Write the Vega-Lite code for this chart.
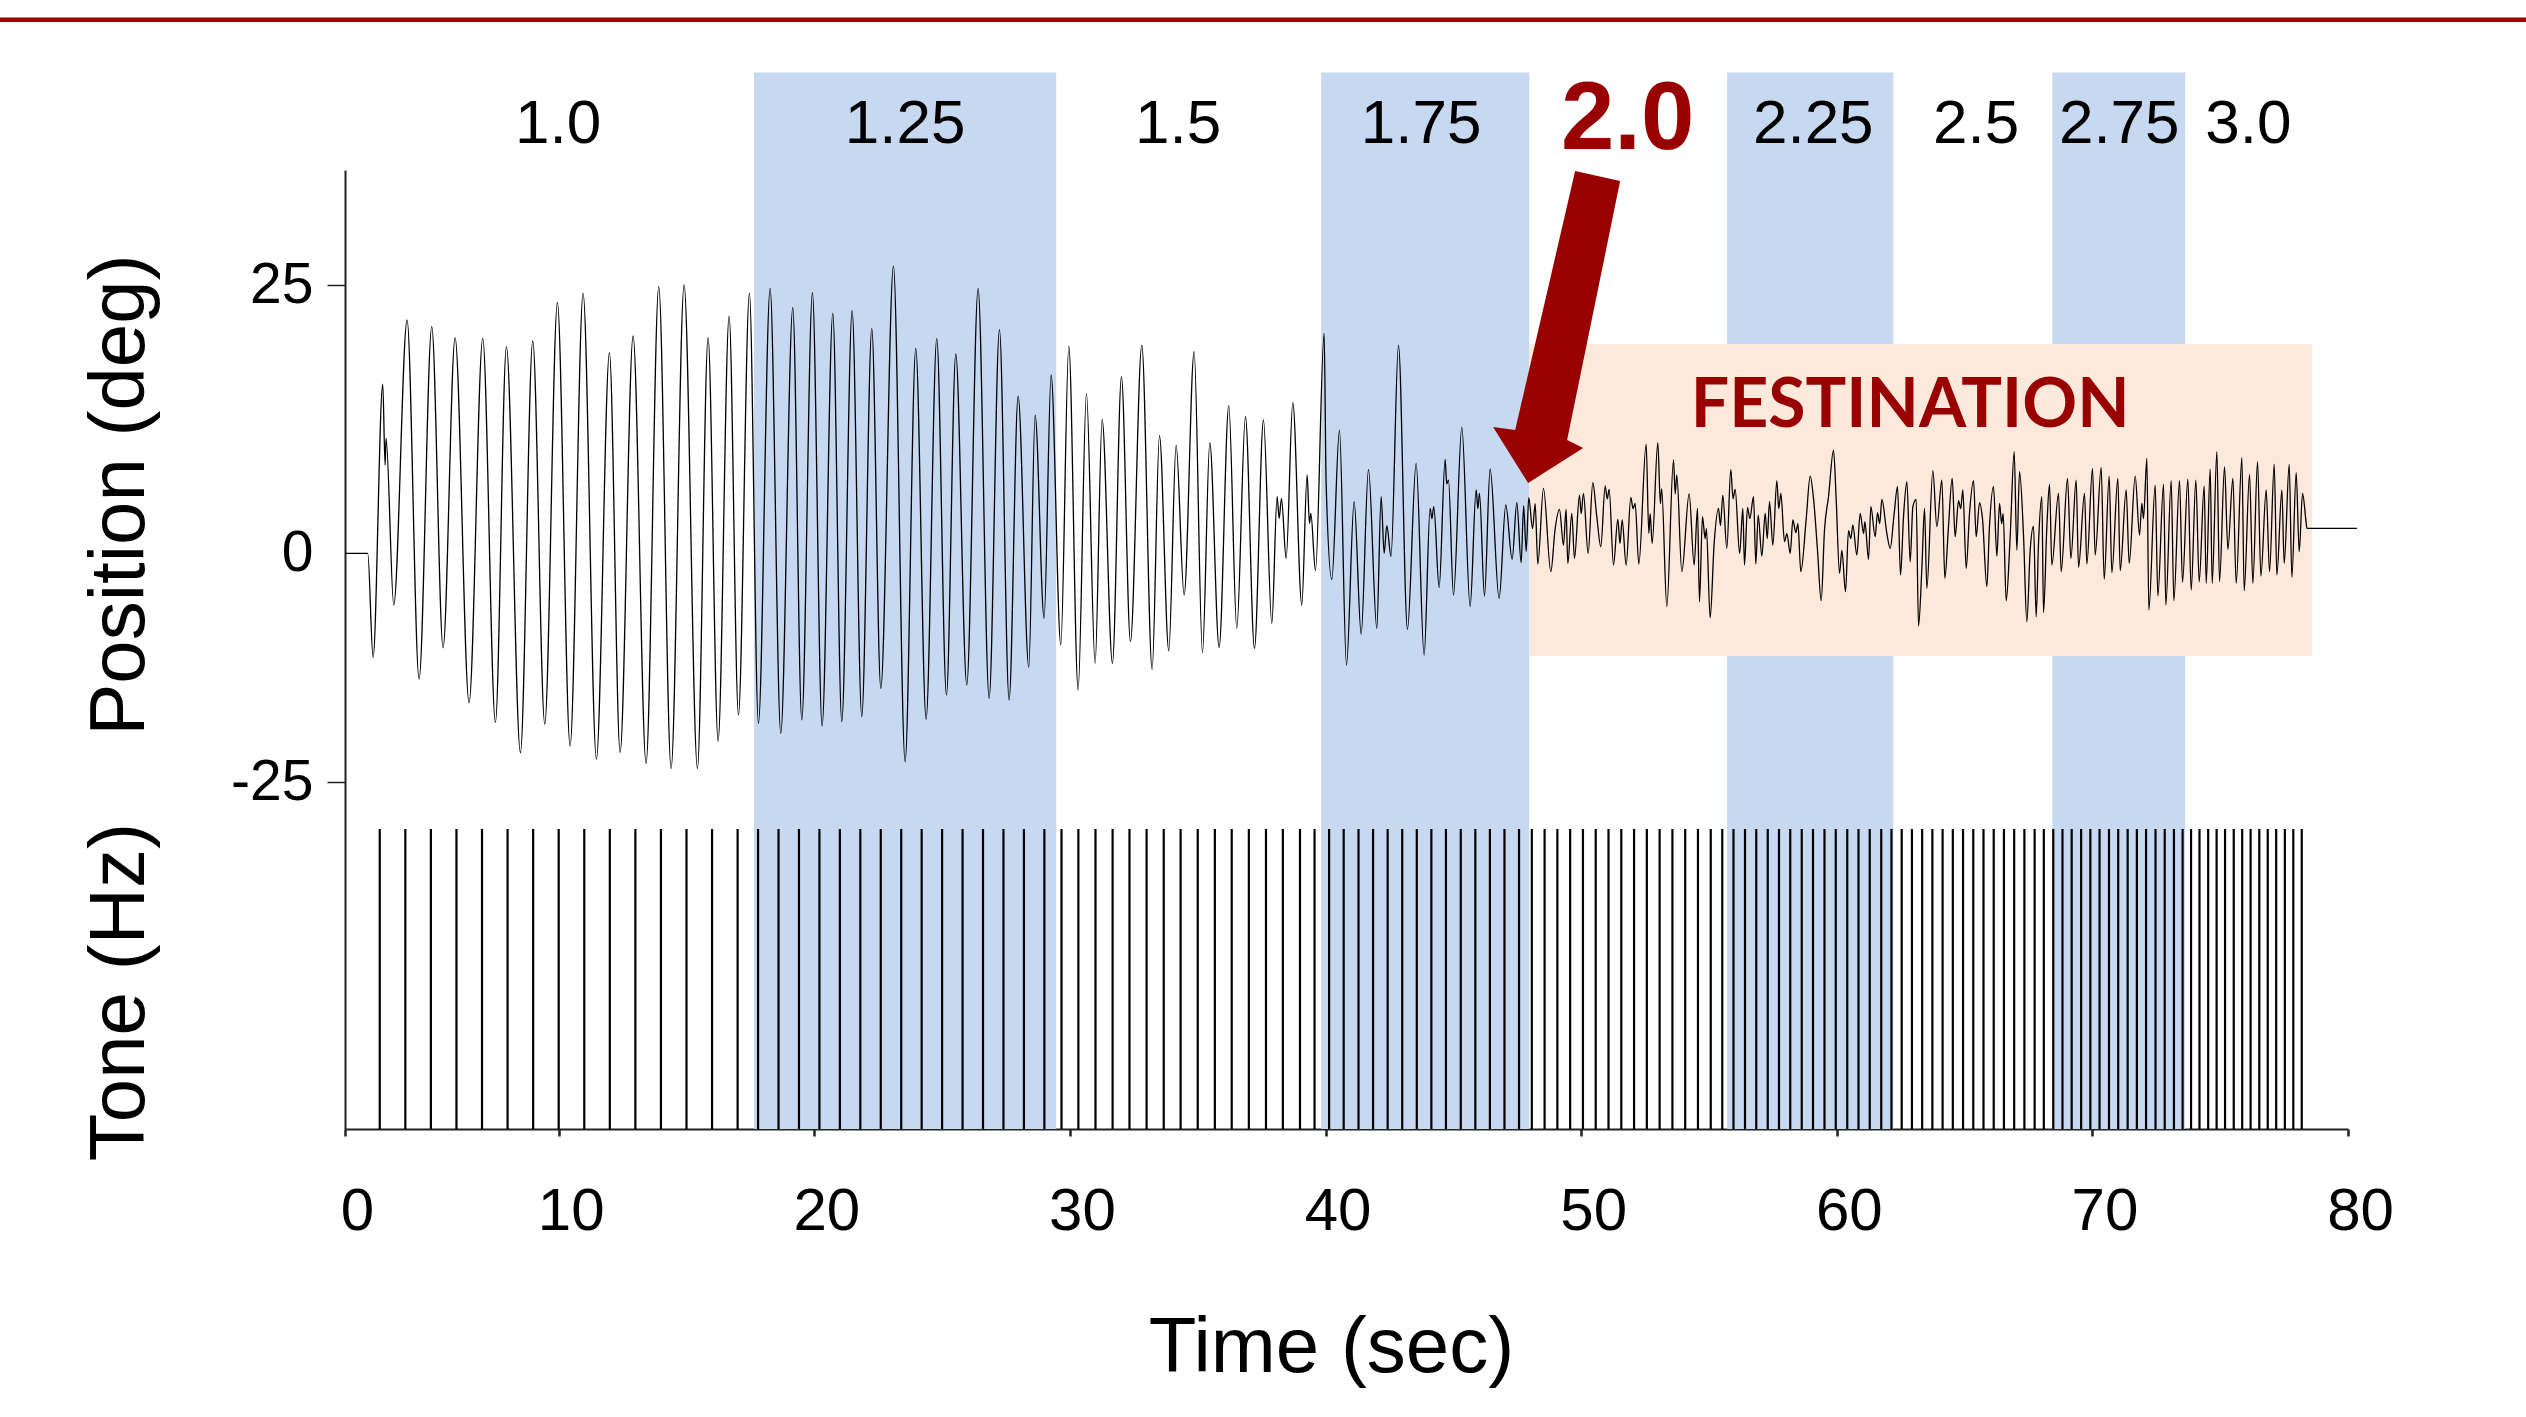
{
  "$schema": "https://vega.github.io/schema/vega-lite/v6.json",
  "width": 2003,
  "height": 959,
  "autosize": {"type": "none"},
  "padding": {"left": 345, "top": 170, "right": 178, "bottom": 288},
  "background": "white",
  "config": {"view": {"stroke": null}, "font": "Liberation Sans"},
  "datasets": {
    "bands": [
      {"freq": "1.25 Hz", "start": 17.64, "end": 29.46},
      {"freq": "1.75 Hz", "start": 39.83, "end": 47.97},
      {"freq": "2.25 Hz", "start": 55.71, "end": 62.21},
      {"freq": "2.75 Hz", "start": 68.43, "end": 73.63}
    ],
    "festination": [{"label": "FESTINATION", "start": 47.97, "end": 78.6}],
    "freqs": [
      {"label": "1.0", "t": 9.98},
      {"label": "1.25", "t": 23.55},
      {"label": "1.5", "t": 34.23},
      {"label": "1.75", "t": 43.74},
      {"label": "2.25", "t": 59.08},
      {"label": "2.5", "t": 65.45},
      {"label": "2.75", "t": 71.05},
      {"label": "3.0", "t": 76.1}
    ],
    "tones": [
      {"t":3},{"t":4},{"t":5},{"t":6},{"t":7},{"t":8},{"t":9},{"t":10},{"t":11},{"t":12},{"t":13},{"t":14},{"t":15},{"t":16},{"t":17},
      {"t":17.8},{"t":18.6},{"t":19.4},{"t":20.2},{"t":21.0},{"t":21.8},{"t":22.6},{"t":23.4},{"t":24.2},{"t":25.0},{"t":25.8},{"t":26.6},{"t":27.4},{"t":28.2},{"t":29.0},
      {"t":29.67},{"t":30.33},{"t":31.0},{"t":31.67},{"t":32.33},{"t":33.0},{"t":33.67},{"t":34.33},{"t":35.0},{"t":35.67},{"t":36.33},{"t":37.0},{"t":37.67},{"t":38.33},{"t":39.0},
      {"t":39.57},{"t":40.14},{"t":40.71},{"t":41.29},{"t":41.86},{"t":42.43},{"t":43.0},{"t":43.57},{"t":44.14},{"t":44.71},{"t":45.29},{"t":45.86},{"t":46.43},{"t":47.0},{"t":47.57},
      {"t":48.07},{"t":48.57},{"t":49.07},{"t":49.57},{"t":50.07},{"t":50.57},{"t":51.07},{"t":51.57},{"t":52.07},{"t":52.57},{"t":53.07},{"t":53.57},{"t":54.07},{"t":54.57},{"t":55.07},
      {"t":55.52},{"t":55.96},{"t":56.41},{"t":56.85},{"t":57.3},{"t":57.74},{"t":58.18},{"t":58.63},{"t":59.07},{"t":59.52},{"t":59.96},{"t":60.41},{"t":60.85},{"t":61.29},{"t":61.74},
      {"t":62.14},{"t":62.54},{"t":62.94},{"t":63.34},{"t":63.74},{"t":64.14},{"t":64.54},{"t":64.94},{"t":65.34},{"t":65.74},{"t":66.14},{"t":66.54},{"t":66.94},{"t":67.34},{"t":67.74},
      {"t":68.1},{"t":68.47},{"t":68.83},{"t":69.19},{"t":69.56},{"t":69.92},{"t":70.28},{"t":70.65},{"t":71.01},{"t":71.38},{"t":71.74},{"t":72.1},{"t":72.47},{"t":72.83},{"t":73.19},
      {"t":73.53},{"t":73.86},{"t":74.19},{"t":74.53},{"t":74.86},{"t":75.19},{"t":75.53},{"t":75.86},{"t":76.19},{"t":76.53},{"t":76.86},{"t":77.19},{"t":77.53},{"t":77.86},{"t":78.19}
    ],
    "signal": [
      {"t":1.643,"deg":-2},{"t":2.53,"deg":-2},{"t":2.739,"deg":-12.46},{"t":3.117,"deg":15.04},{"t":3.208,"deg":6.89},{"t":3.247,"deg":9.57},{"t":3.547,"deg":-7.19},{"t":4.069,"deg":21.48},{"t":4.538,"deg":-14.64},{"t":5.034,"deg":20.81},{"t":5.477,"deg":-11.49},{"t":5.947,"deg":19.7},{"t":6.494,"deg":-17.02},{"t":7.029,"deg":19.63},{"t":7.525,"deg":-19},{"t":7.955,"deg":18.8},{"t":8.503,"deg":-22.05},{"t":8.985,"deg":19.37},{"t":9.455,"deg":-19.16},{"t":9.95,"deg":23.22},{"t":10.446,"deg":-21.38},{"t":10.955,"deg":24.16},{"t":11.476,"deg":-22.69},{"t":11.985,"deg":18.19},{"t":12.402,"deg":-22.02},{"t":12.911,"deg":19.87},{"t":13.419,"deg":-23.12},{"t":13.915,"deg":24.83},{"t":14.398,"deg":-23.63},{"t":14.906,"deg":25},
      {"t":15.428,"deg":-23.63},{"t":15.845,"deg":19.7},{"t":16.236,"deg":-20.87},{"t":16.667,"deg":21.88},{"t":17.032,"deg":-18.26},{"t":17.462,"deg":24.16},{"t":17.814,"deg":-19.1},{"t":18.271,"deg":24.66},{"t":18.688,"deg":-20.1},{"t":19.158,"deg":22.72},{"t":19.51,"deg":-18.76},{"t":19.927,"deg":24.23},{"t":20.305,"deg":-19.37},{"t":20.723,"deg":22.15},{"t":21.075,"deg":-18.93},{"t":21.479,"deg":22.42},{"t":21.857,"deg":-18.43},{"t":22.249,"deg":20.64},{"t":22.601,"deg":-15.58},{"t":23.096,"deg":26.91},{"t":23.553,"deg":-22.95},{"t":23.97,"deg":18.63},{"t":24.374,"deg":-18.69},{"t":24.791,"deg":19.63},{"t":25.17,"deg":-16.25},{"t":25.535,"deg":18.06},{"t":25.965,"deg":-15.24},{"t":26.408,"deg":24.66},{"t":26.839,"deg":-16.58},{"t":27.243,"deg":20.54},{"t":27.621,"deg":-16.75},{"t":27.974,"deg":13.83},{"t":28.391,"deg":-13.46},{"t":28.639,"deg":11.92},
      {"t":28.99,"deg":-8.53},{"t":29.264,"deg":15.95},{"t":29.643,"deg":-11.22},{"t":29.956,"deg":18.86},{"t":30.321,"deg":-15.74},{"t":30.647,"deg":14.1},{"t":30.986,"deg":-13.06},{"t":31.26,"deg":11.49},{"t":31.664,"deg":-13.06},{"t":32.016,"deg":15.78},{"t":32.368,"deg":-10.88},{"t":32.812,"deg":18.96},{"t":33.216,"deg":-13.67},{"t":33.503,"deg":9.84},{"t":33.868,"deg":-11.79},{"t":34.155,"deg":8.9},{"t":34.468,"deg":-6.19},{"t":34.859,"deg":18.29},{"t":35.185,"deg":-11.99},{"t":35.472,"deg":9.14},{"t":35.837,"deg":-11.45},{"t":36.215,"deg":12.86},{"t":36.528,"deg":-9.54},{"t":36.867,"deg":11.75},{"t":37.219,"deg":-11.55},{"t":37.572,"deg":11.42},{"t":37.898,"deg":-9.04},{"t":38.106,"deg":3.71},{"t":38.185,"deg":1.53},{"t":38.276,"deg":3.54},{"t":38.458,"deg":-2.5},{"t":38.719,"deg":13.16},{"t":39.071,"deg":-7.19},{"t":39.28,"deg":5.89},{"t":39.371,"deg":1.02},{"t":39.424,"deg":2.03},{"t":39.606,"deg":-3.74},{"t":39.945,"deg":20.14},{"t":40.023,"deg":5.05},{"t":40.245,"deg":-4.61},{"t":40.545,"deg":10.41},{"t":40.819,"deg":-13.23},{"t":41.119,"deg":3.2},{"t":41.393,"deg":-10.11},{"t":41.68,"deg":6.46},{"t":42.006,"deg":-9.54},{"t":42.175,"deg":3.71},{"t":42.293,"deg":-2},{"t":42.397,"deg":0.79},{"t":42.56,"deg":-2.3},
      {"t":42.853,"deg":18.96},{"t":43.205,"deg":-9.64},{"t":43.544,"deg":7.06},{"t":43.857,"deg":-12.22},{"t":44.092,"deg":2.53},{"t":44.16,"deg":1.5},{"t":44.235,"deg":2.7},{"t":44.444,"deg":-5.42},{"t":44.679,"deg":7.46},{"t":44.74,"deg":5},{"t":44.81,"deg":5.38},{"t":45.005,"deg":-6.19},{"t":45.331,"deg":10.68},{"t":45.657,"deg":-7.36},{"t":45.892,"deg":4.38},{"t":45.96,"deg":2.5},{"t":46.022,"deg":4.04},{"t":46.218,"deg":-6.29},{"t":46.439,"deg":6.49},{"t":46.791,"deg":-6.52},{"t":47.052,"deg":2.87},{"t":47.3,"deg":-2.6},{"t":47.483,"deg":3.1},{"t":47.652,"deg":-2.93},{"t":47.75,"deg":2.8},{"t":47.85,"deg":-1.8},{"t":47.95,"deg":3.6},{"t":48.1,"deg":0.5},{"t":48.2,"deg":3},{"t":48.305,"deg":-3.07},{"t":48.526,"deg":4.54},{"t":48.813,"deg":-3.84},{"t":48.98,"deg":0.42},{"t":49.152,"deg":2.43},{"t":49.308,"deg":-1.16},{"t":49.41,"deg":2.43},{"t":49.478,"deg":-3},{"t":49.634,"deg":2.03},{"t":49.739,"deg":-2.5},{"t":49.934,"deg":3.87},{"t":50,"deg":2},{"t":50.09,"deg":4.04},{"t":50.273,"deg":-2},{"t":50.456,"deg":5.11},{"t":50.612,"deg":1.69},{"t":50.769,"deg":-1.33},{"t":50.939,"deg":4.78},{"t":51.02,"deg":3.5},{"t":51.095,"deg":4.44},{"t":51.265,"deg":-3.17},{"t":51.434,"deg":1.43},{"t":51.52,"deg":-1},{"t":51.604,"deg":1.36},{"t":51.76,"deg":-3.17},{"t":51.943,"deg":3.64},{"t":52.03,"deg":2.5},{"t":52.112,"deg":3.04},{"t":52.256,"deg":-3.07},{"t":52.543,"deg":9},{"t":52.647,"deg":0.02},{"t":52.7,"deg":2},{"t":52.777,"deg":-1},{"t":52.999,"deg":9.14},{"t":53.1,"deg":3},{"t":53.15,"deg":4.5},{"t":53.351,"deg":-7.36},{"t":53.612,"deg":7.4},{"t":53.68,"deg":4},{"t":53.742,"deg":5.89},{"t":53.938,"deg":-3.84},{"t":54.225,"deg":3.98},{"t":54.42,"deg":-3.17},{"t":54.551,"deg":2.53},{"t":54.629,"deg":-6.86},{"t":54.746,"deg":1.69},{"t":54.85,"deg":-0.5},{"t":54.9,"deg":0.5},{"t":55.046,"deg":-8.47},{"t":55.203,"deg":-1},{"t":55.373,"deg":2.53},{"t":55.45,"deg":0.8},{"t":55.542,"deg":3.87},{"t":55.699,"deg":-1.49},{"t":55.855,"deg":6.46},{"t":55.94,"deg":3.5},{"t":56.025,"deg":4.44},{"t":56.2,"deg":-2},
      {"t":56.325,"deg":2.53},{"t":56.39,"deg":-3.17},{"t":56.508,"deg":2.63},{"t":56.6,"deg":1.5},{"t":56.743,"deg":3.7},{"t":56.834,"deg":-3.07},{"t":56.925,"deg":1.86},{"t":57.069,"deg":-2.27},{"t":57.2,"deg":2.03},{"t":57.28,"deg":-0.5},{"t":57.369,"deg":3.2},{"t":57.499,"deg":-1.16},{"t":57.656,"deg":5.32},{"t":57.73,"deg":2.5},{"t":57.812,"deg":4.04},{"t":57.955,"deg":-0.82},{"t":58.05,"deg":0},{"t":58.177,"deg":-2},{"t":58.282,"deg":1.36},{"t":58.4,"deg":0.1},{"t":58.48,"deg":1},{"t":58.594,"deg":-3.84},{"t":58.803,"deg":1.43},{"t":58.96,"deg":5.78},{"t":59.09,"deg":3.54},{"t":59.246,"deg":-1.66},{"t":59.39,"deg":-6.76},{"t":59.52,"deg":0.35},{"t":59.677,"deg":3.7},{"t":59.873,"deg":8.4},{"t":59.977,"deg":3.44},{"t":60.107,"deg":-4.01},{"t":60.2,"deg":-1.7},{"t":60.342,"deg":-5.85},{"t":60.459,"deg":0.28},{"t":60.55,"deg":-0.5},{"t":60.629,"deg":0.86},{"t":60.785,"deg":-2.16},{"t":60.916,"deg":2.03},{"t":61.05,"deg":0},{"t":61.1,"deg":1.2},{"t":61.242,"deg":-2.6},{"t":61.333,"deg":2.7},{"t":61.503,"deg":-0.32},{"t":61.594,"deg":2.1},{"t":61.68,"deg":1},{"t":61.764,"deg":3.44},{"t":61.96,"deg":0},{"t":62.09,"deg":-1.49},{"t":62.246,"deg":2.03},{"t":62.377,"deg":4.71},{"t":62.494,"deg":-4.18},{"t":62.611,"deg":1.69},{"t":62.742,"deg":5.21},{"t":62.872,"deg":-2.84},{"t":62.977,"deg":2.7},{"t":63.107,"deg":3.44},{"t":63.198,"deg":-9.31},{"t":63.329,"deg":-3.5},{"t":63.433,"deg":2.53},{"t":63.524,"deg":-5.52},{"t":63.759,"deg":6.32},{"t":63.915,"deg":0.69},{"t":64.111,"deg":5.38},{"t":64.228,"deg":-4.51},{"t":64.37,"deg":0.7},{"t":64.515,"deg":5.55},{"t":64.632,"deg":-0.32},{"t":64.763,"deg":3.3},{"t":64.85,"deg":2.5},{"t":64.932,"deg":4.38},{"t":65.063,"deg":-3.5},{"t":65.193,"deg":2.03},{"t":65.35,"deg":5.32},{"t":65.454,"deg":-0.32},{"t":65.585,"deg":3.1},{"t":65.7,"deg":1.5},{"t":65.872,"deg":-5.35},{"t":65.97,"deg":0.5},{"t":66.132,"deg":4.71},{"t":66.263,"deg":-2.27},{"t":66.367,"deg":3.04},{"t":66.45,"deg":1},{"t":66.51,"deg":2},{"t":66.628,"deg":-6.76},{"t":66.784,"deg":-0.32},{"t":66.941,"deg":8.23},{"t":67.045,"deg":-1.66},{"t":67.15,"deg":6.22},{"t":67.306,"deg":-0.2},{"t":67.436,"deg":-8.87},{"t":67.567,"deg":-1.66},{"t":67.697,"deg":0.75},{"t":67.801,"deg":-8.37},{"t":67.893,"deg":-1},{"t":68.023,"deg":3.71},{"t":68.088,"deg":-7.96},{"t":68.219,"deg":0.7},{"t":68.323,"deg":4.98},
      {"t":68.414,"deg":-3.17},{"t":68.675,"deg":4.04},{"t":68.779,"deg":-3.84},{"t":69.027,"deg":5.55},{"t":69.158,"deg":-2.5},{"t":69.366,"deg":5.38},{"t":69.458,"deg":-3.4},{"t":69.692,"deg":4.04},{"t":69.784,"deg":-3.07},{"t":70.005,"deg":6.56},{"t":70.11,"deg":-2.16},{"t":70.344,"deg":6.66},{"t":70.462,"deg":-4.61},{"t":70.657,"deg":5.78},{"t":70.762,"deg":-3.94},{"t":70.996,"deg":5.55},{"t":71.088,"deg":-3.74},{"t":71.322,"deg":4.38},{"t":71.44,"deg":-3},{"t":71.675,"deg":5.78},{"t":71.844,"deg":-0.15},{"t":71.935,"deg":3.04},{"t":72.0,"deg":1.5},{"t":72.131,"deg":7.56},{"t":72.209,"deg":-7.7},{"t":72.457,"deg":4.88},{"t":72.561,"deg":-6.29},{"t":72.783,"deg":4.98},{"t":72.874,"deg":-7.19},{"t":73.083,"deg":5.32},{"t":73.187,"deg":-6.76},{"t":73.409,"deg":5.32},{"t":73.526,"deg":-4.91},{"t":73.735,"deg":5.48},{"t":73.865,"deg":-5.68},{"t":74.048,"deg":5.38},{"t":74.178,"deg":-4.85},{"t":74.374,"deg":4.78},{"t":74.452,"deg":-5.01},{"t":74.609,"deg":6.49},{"t":74.687,"deg":-5.01},{"t":74.87,"deg":8.23},{"t":74.974,"deg":-4.85},{"t":75.17,"deg":6.72},{"t":75.3,"deg":-1.59},{"t":75.496,"deg":5.55},{"t":75.626,"deg":-5.01},{"t":75.848,"deg":7.63},{"t":75.939,"deg":-5.75},{"t":76.148,"deg":5.95},{"t":76.278,"deg":-5.01},{"t":76.461,"deg":7.23},{"t":76.591,"deg":-4.28},{"t":76.8,"deg":4.38},{"t":76.93,"deg":-3.84},{"t":77.113,"deg":6.99},{"t":77.217,"deg":-4.18},{"t":77.413,"deg":4.38},{"t":77.504,"deg":-3},{"t":77.7,"deg":6.96},{"t":77.804,"deg":-4.41},{"t":77.973,"deg":6.12},{"t":78.091,"deg":-1.83},{"t":78.221,"deg":4.04},{"t":78.365,"deg":1.02},{"t":78.39,"deg":0.52},{"t":80.347,"deg":0.52}
    ]
  },
  "layer": [
    {
      "data": {"name": "signal"},
      "mark": {"type": "line", "color": "black", "strokeWidth": 1.3, "interpolate": "monotone", "opacity": 0},
      "encoding": {
        "x": {
          "field": "t", "type": "quantitative",
          "scale": {"domain": [1.64, 80], "nice": false, "zero": false},
          "axis": {
            "title": "Time (sec)",
            "values": [1.64, 10, 20, 30, 40, 50, 60, 70, 80],
            "labelExpr": "datum.value < 5 ? '0' : datum.label",
            "grid": false, "labelFlush": false, "labelOverlap": false,
            "domainColor": "#222", "domainWidth": 2,
            "tickColor": "#222", "tickWidth": 2.5, "tickSize": 7,
            "labelFont": "Liberation Sans", "labelFontSize": 60, "labelColor": "black",
            "labelPadding": 46, "labelOffset": 12,
            "titleFont": "Liberation Sans", "titleFontSize": 78, "titleFontWeight": "normal",
            "titleColor": "black", "titleX": 986, "titleY": 219, "titleBaseline": "middle", "titleAlign": "center"
          }
        },
        "y": {
          "field": "deg", "type": "quantitative",
          "scale": {"domain": [-59.9, 36.57], "nice": false, "zero": false},
          "axis": {
            "title": null,
            "values": [25, -2, -25],
            "labelExpr": "datum.value > 20 ? '25' : (datum.value < -20 ? '-25' : '0')",
            "grid": false,
            "domainColor": "#222", "domainWidth": 2,
            "tickColor": "#222",
            "tickOpacity": {"condition": {"test": "datum.value == -2", "value": 0}, "value": 1},
            "tickWidth": 1.5, "tickSize": 18,
            "labelFont": "Liberation Sans", "labelFontSize": 57, "labelColor": "black", "labelPadding": 14
          }
        }
      }
    },
    {
      "data": {"name": "bands"},
      "mark": {"type": "rect", "color": "#C6D9F0"},
      "encoding": {
        "x": {"field": "start", "type": "quantitative", "title": "Time (sec)"},
        "x2": {"field": "end"},
        "y": {"datum": 46.38, "type": "quantitative", "title": null},
        "y2": {"datum": -59.9}
      }
    },
    {
      "data": {"name": "festination"},
      "mark": {"type": "rect", "color": "#FCE9DB"},
      "encoding": {
        "x": {"field": "start", "type": "quantitative", "title": "Time (sec)"},
        "x2": {"field": "end"},
        "y": {"datum": 19.06, "type": "quantitative", "title": null},
        "y2": {"datum": -12.32}
      }
    },
    {
      "data": {"name": "tones"},
      "mark": {"type": "rule", "color": "black", "strokeWidth": 2.2},
      "encoding": {
        "x": {"field": "t", "type": "quantitative", "title": "Time (sec)"},
        "y": {"datum": -29.73, "type": "quantitative", "title": null},
        "y2": {"datum": -59.9}
      }
    },
    {
      "data": {"name": "signal"},
      "mark": {"type": "line", "color": "black", "strokeWidth": 1.3, "interpolate": "monotone"},
      "encoding": {
        "x": {"field": "t", "type": "quantitative", "title": "Time (sec)"},
        "y": {"field": "deg", "type": "quantitative", "title": null}
      }
    },
    {
      "data": {"name": "freqs"},
      "mark": {"type": "text", "font": "Liberation Sans", "fontSize": 62, "color": "black", "align": "center", "baseline": "alphabetic"},
      "encoding": {
        "x": {"field": "t", "type": "quantitative", "title": "Time (sec)"},
        "y": {"datum": 39.29, "type": "quantitative", "title": null},
        "text": {"field": "label"}
      }
    },
    {
      "data": {"values": [{"label": "2.0"}]},
      "mark": {"type": "text", "font": "Liberation Sans", "fontWeight": "bold", "fontSize": 96, "color": "#990000", "align": "center", "baseline": "alphabetic"},
      "encoding": {
        "x": {"datum": 51.82, "type": "quantitative", "title": "Time (sec)"},
        "y": {"datum": 38.68, "type": "quantitative", "title": null},
        "text": {"field": "label"}
      }
    },
    {
      "data": {"name": "festination"},
      "mark": {"type": "text", "font": "Lato", "fontWeight": "bold", "fontSize": 68, "color": "#990000", "align": "center", "baseline": "alphabetic"},
      "encoding": {
        "x": {"datum": 62.87, "type": "quantitative", "title": "Time (sec)"},
        "y": {"datum": 10.71, "type": "quantitative", "title": null},
        "text": {"field": "label"}
      }
    },
    {
      "data": {"values": [{"what": "arrow"}]},
      "mark": {
        "type": "point", "filled": true, "color": "#990000", "opacity": 1, "size": 102400,
        "shape": "M0.1156,-0.975L0.397,-0.9125L0.0656,0.706L0.1656,0.756L-0.178,0.975L-0.397,0.625L-0.259,0.644Z"
      },
      "encoding": {
        "x": {"datum": 49.04, "type": "quantitative", "title": "Time (sec)"},
        "y": {"datum": 20.77, "type": "quantitative", "title": null}
      }
    },
    {
      "data": {"values": [{"what": "header rule"}]},
      "mark": {"type": "rule", "color": "#990000", "strokeWidth": 4.6},
      "encoding": {
        "x": {"datum": -12, "type": "quantitative", "title": "Time (sec)"},
        "x2": {"datum": 87},
        "y": {"datum": 51.69, "type": "quantitative", "title": null}
      }
    },
    {
      "data": {"values": [{"label": "Position (deg)"}]},
      "mark": {"type": "text", "font": "Liberation Sans", "fontSize": 78, "color": "black", "align": "center", "baseline": "middle", "angle": 270},
      "encoding": {
        "x": {"datum": -7.12, "type": "quantitative", "title": "Time (sec)"},
        "y": {"datum": 3.87, "type": "quantitative", "title": null},
        "text": {"field": "label"}
      }
    },
    {
      "data": {"values": [{"label": "Tone (Hz)"}]},
      "mark": {"type": "text", "font": "Liberation Sans", "fontSize": 78, "color": "black", "align": "center", "baseline": "middle", "angle": 270},
      "encoding": {
        "x": {"datum": -7.12, "type": "quantitative", "title": "Time (sec)"},
        "y": {"datum": -46.13, "type": "quantitative", "title": null},
        "text": {"field": "label"}
      }
    }
  ]
}
